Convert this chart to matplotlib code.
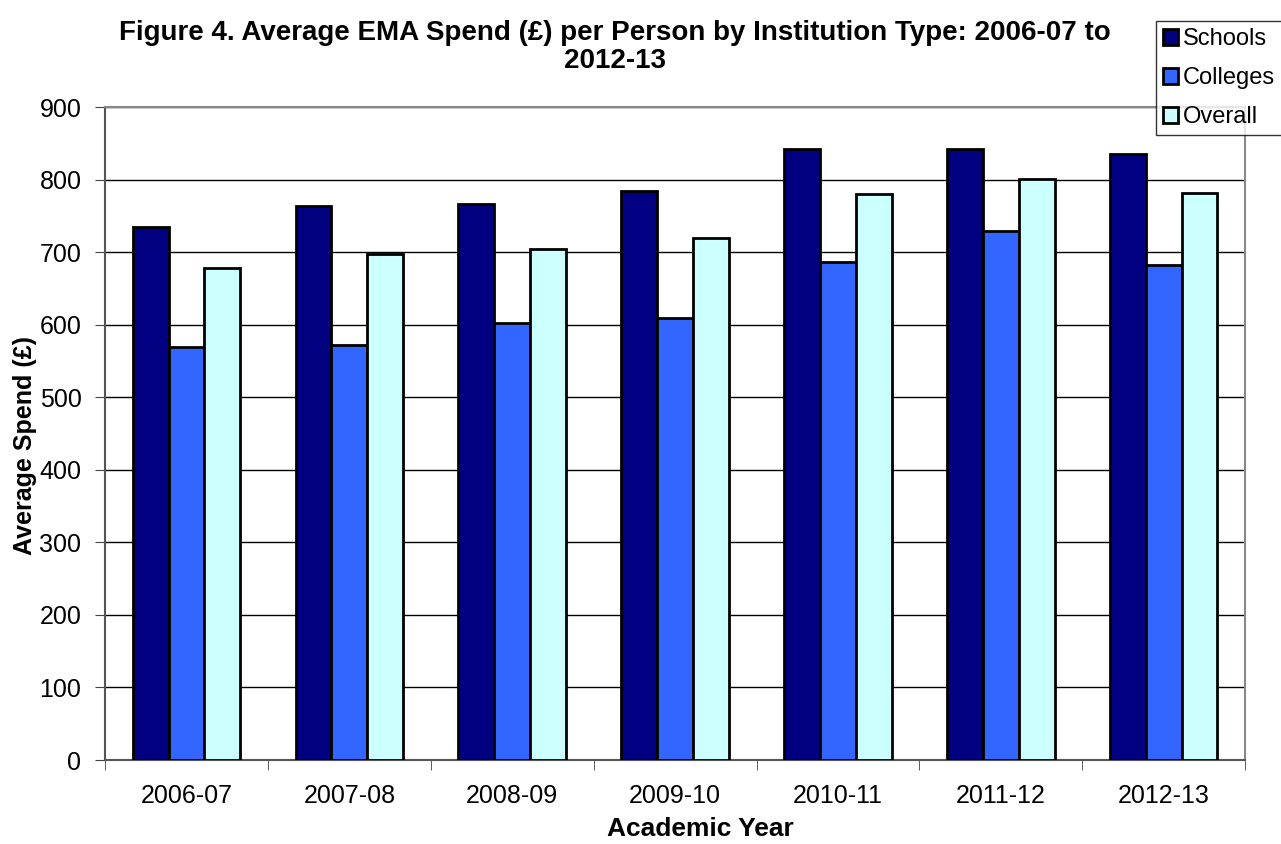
import numpy as np
import matplotlib.pyplot as plt

plt.rcParams['font.family'] = ['Liberation Sans', 'DejaVu Sans']

years = ['2006-07', '2007-08', '2008-09', '2009-10', '2010-11', '2011-12', '2012-13']
schools = [735, 764, 766, 785, 842, 843, 835]
colleges = [570, 572, 603, 610, 686, 729, 682]
overall = [678, 697, 705, 720, 781, 801, 782]

series = [('Schools', schools, '#000080'),
          ('Colleges', colleges, '#3366FF'),
          ('Overall', overall, '#CCFFFF')]

fig = plt.figure(figsize=(12.81, 8.44), dpi=100)
ax = fig.add_axes([0.082, 0.0995, 0.89, 0.7735])

x = np.arange(len(years))
w = 0.22
for i, (name, vals, col) in enumerate(series):
    ax.bar(x + (i - 1) * w, vals, w, color=col, edgecolor='black', linewidth=2,
           label=name, zorder=3)

ax.set_xlim(-0.5, len(years) - 0.5)
ax.set_ylim(0, 900)
ax.set_yticks(range(0, 901, 100))
ax.set_xticks(x)
ax.set_xticklabels(years)
ax.set_xticks(np.arange(-0.5, len(years)), minor=True)
ax.tick_params(axis='x', which='major', length=0, pad=17, labelsize=18)
ax.tick_params(axis='x', which='minor', length=7, color='#444444')
ax.tick_params(axis='y', length=7, direction='out', color='#444444', labelsize=18, pad=10)
ax.grid(axis='y', color='black', linewidth=1, zorder=0)

for s in ['top', 'right']:
    ax.spines[s].set_color('#888888')
    ax.spines[s].set_linewidth(1.5)
for s in ['left', 'bottom']:
    ax.spines[s].set_color('#555555')
    ax.spines[s].set_linewidth(1.5)

ax.set_xlabel('Academic Year', fontsize=19, fontweight='bold')
ax.set_ylabel('Average Spend (£)', fontsize=18, fontweight='bold')
ax.xaxis.set_label_coords(0.522, -0.088)
ax.yaxis.set_label_coords(-0.06, 0.482)

fig.text(0.48, 0.976, 'Figure 4. Average EMA Spend (£) per Person by Institution Type: 2006-07 to\n2012-13',
         ha='center', va='top', fontsize=20, fontweight='bold', linespacing=1.1)

leg = fig.legend(loc='upper left', bbox_to_anchor=(1156 / 1281, 1 - 21 / 844),
                 fontsize=17, frameon=True, fancybox=False, edgecolor='black',
                 handlelength=0.65, handleheight=0.65, handletextpad=0.2,
                 borderpad=0.3, labelspacing=0.72, borderaxespad=0)
leg.get_frame().set_linewidth(1)

fig.savefig('out.png', dpi=100)
